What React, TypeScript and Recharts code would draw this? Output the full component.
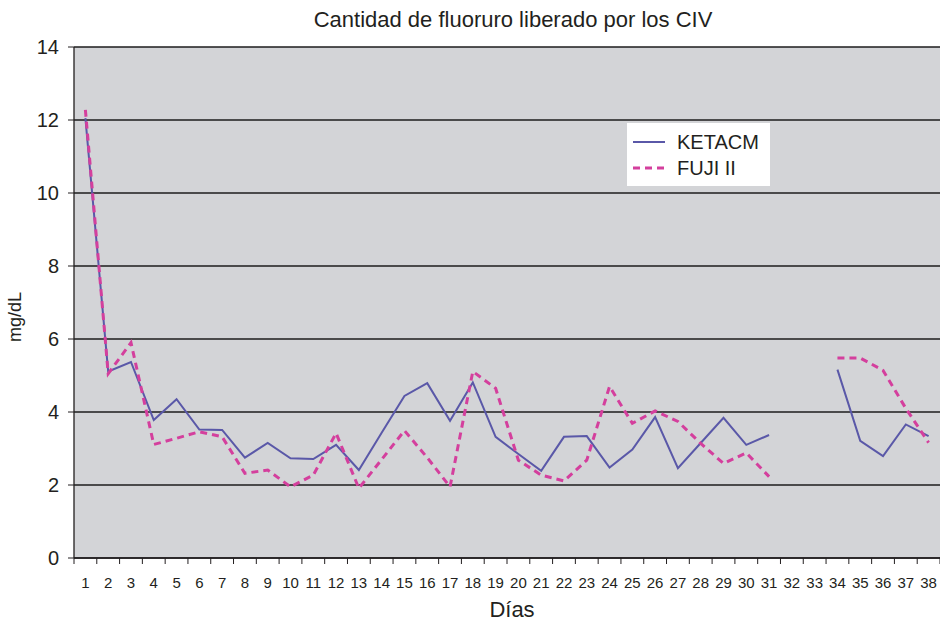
import React from 'react'
import { LineChart, Line, XAxis, YAxis, CartesianGrid, Legend } from 'recharts'

const days = [
  '1', '2', '3', '4', '5', '6', '7', '8', '9', '10', '11', '12', '13',
  '14', '15', '16', '17', '18', '19', '20', '21', '22', '23', '24', '25',
  '26', '27', '28', '29', '30', '31', '32', '33', '34', '35', '36', '37', '38',
]
const ketacm = [
  12.05, 5.11, 5.37, 3.78, 4.35, 3.52, 3.51, 2.75, 3.15, 2.73, 2.71, 3.1,
  2.41, 3.43, 4.44, 4.79, 3.76, 4.81, 3.32, 2.85, 2.39, 3.32, 3.34, 2.48,
  2.97, 3.86, 2.46, 3.15, 3.84, 3.1, 3.37, null, null, 5.16, 3.21, 2.79, 3.66, 3.34,
]
const fuji = [
  12.28, 5.05, 5.9, 3.11, 3.28, 3.46, 3.32, 2.32, 2.41, 1.95, 2.27, 3.42,
  1.91, 2.7, 3.49, 2.75, 1.95, 5.11, 4.65, 2.68, 2.27, 2.11, 2.68, 4.7,
  3.69, 4.03, 3.74, 3.14, 2.59, 2.88, 2.23, null, null, 5.48, 5.48, 5.14, 4.1, 3.16,
]
const yTicks = [0, 2, 4, 6, 8, 10, 12, 14]
const seriesOrder = ['ketacm', 'fuji']

const W = 940
const H = 623
const M = { top: 47, right: 0, left: 0, bottom: 0 }
const Y_W = 74
const X_H = 65
const band = (W - M.left - M.right - Y_W) / days.length

const FONT = '"Liberation Sans", Arial, Helvetica, sans-serif'
const INK = '#231f20'
const C_KET = '#5a58a8'
const C_FUJI = '#d43f9d'

const data = days.map((d, i) => ({ day: d, ketacm: ketacm[i], fuji: fuji[i] }))

function DayTick(props: any) {
  const { x, y, payload, index } = props
  const last = index === days.length - 1
  return (
    <g>
      <line x1={x - band / 2} y1={y} x2={x - band / 2} y2={y + 6} stroke={INK} strokeWidth={1} />
      {last && <line x1={x + band / 2} y1={y} x2={x + band / 2} y2={y + 6} stroke={INK} strokeWidth={1} />}
      <text x={x} y={y + 30} textAnchor="middle" fontSize={15} fill={INK} fontFamily={FONT}>
        {payload.value}
      </text>
    </g>
  )
}

function LegendBox(props: any) {
  const items = [...(props.payload || [])].sort(
    (a: any, b: any) => seriesOrder.indexOf(a.dataKey) - seriesOrder.indexOf(b.dataKey),
  )
  return (
    <div style={{ background: '#fff', width: 143, height: 63, boxSizing: 'border-box', padding: '6px 0 0 6px', fontFamily: FONT }}>
      {items.map((it: any) => (
        <div key={it.value} style={{ display: 'flex', alignItems: 'center', height: 26 }}>
          <svg width={34} height={10} style={{ marginRight: 10 }}>
            <line x1={0} y1={5} x2={32} y2={5} stroke={it.color}
              strokeWidth={it.dataKey === 'fuji' ? 3 : 2}
              strokeDasharray={it.dataKey === 'fuji' ? '7 5' : undefined} />
          </svg>
          <span style={{ fontSize: 20, color: INK, lineHeight: '20px' }}>{it.value}</span>
        </div>
      ))}
    </div>
  )
}

export default function App() {
  return (
    <div style={{ position: 'absolute', left: 0, top: 0, width: W, height: H, background: '#fff' }}>
      <div style={{
        position: 'absolute', left: 113, top: 9, width: 800, textAlign: 'center',
        fontFamily: FONT, fontSize: 22, lineHeight: '22px', color: INK,
      }}>
        Cantidad de fluoruro liberado por los CIV
      </div>
      <LineChart width={W} height={H} data={data} margin={M}>
        <CartesianGrid vertical={false} stroke="#1c1c1c" strokeWidth={1.3} fill="#d3d4d7" fillOpacity={1} />
        <XAxis
          dataKey="day"
          height={X_H}
          interval={0}
          padding={{ left: band / 2, right: band / 2 }}
          tickLine={false}
          tickSize={0}
          tickMargin={0}
          tick={<DayTick />}
          axisLine={{ stroke: INK, strokeWidth: 1.3 }}
          label={{
            content: () => (
              <text x={512} y={617} textAnchor="middle" fontSize={22} fill={INK} fontFamily={FONT}>Días</text>
            ),
          }}
        />
        <YAxis
          width={Y_W}
          domain={[0, 14]}
          ticks={yTicks}
          interval={0}
          tickSize={6}
          tickMargin={9}
          tick={{ fontSize: 20, fill: INK, fontFamily: FONT }}
          tickLine={{ stroke: INK }}
          axisLine={{ stroke: INK, strokeWidth: 1.3 }}
          label={{
            content: () => (
              <text x={21} y={317} transform="rotate(-90 21 317)" textAnchor="middle" fontSize={18} fill={INK} fontFamily={FONT}>mg/dL</text>
            ),
          }}
        />
        <Legend
          layout="vertical"
          verticalAlign="middle"
          align="center"
          wrapperStyle={{ left: 627, top: 123, width: 143, height: 63 }}
          content={<LegendBox />}
        />
        <Line type="linear" dataKey="ketacm" name="KETACM" stroke={C_KET} strokeWidth={2} dot={false} isAnimationActive={false} />
        <Line type="linear" dataKey="fuji" name="FUJI II" stroke={C_FUJI} strokeWidth={3} strokeDasharray="7 5" dot={false} isAnimationActive={false} />
      </LineChart>
    </div>
  )
}
